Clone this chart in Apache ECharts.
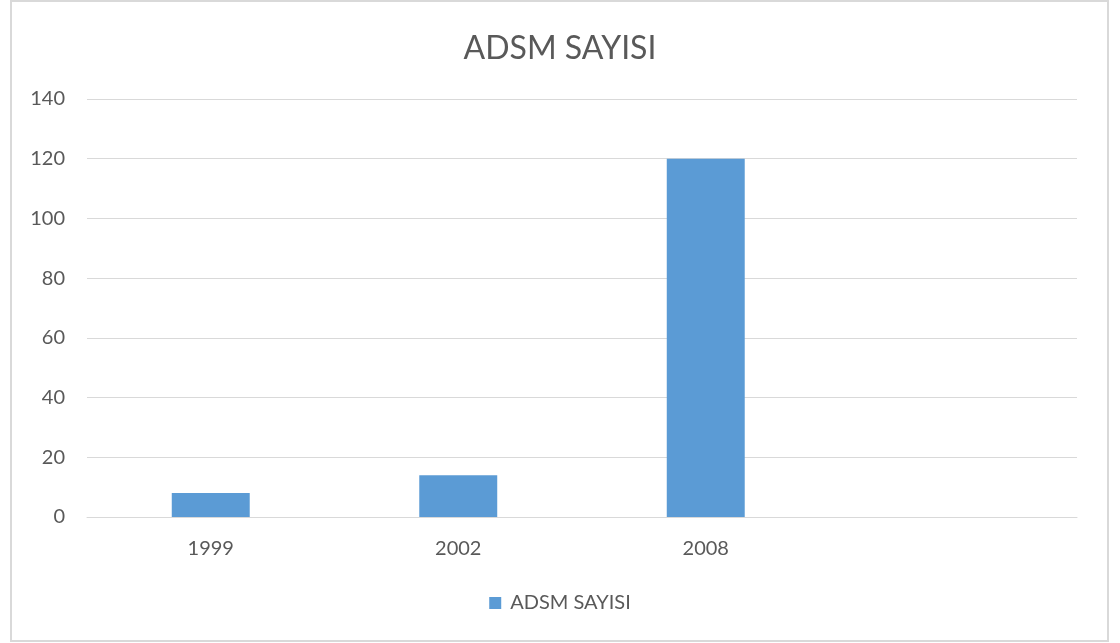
<!DOCTYPE html>
<html>
<head>
<meta charset="utf-8">
<script src="https://cdn.jsdelivr.net/npm/echarts@6/dist/echarts.min.js"></script>
<style>
  html, body { margin: 0; padding: 0; background: #fff; }
  #frame {
    position: absolute; left: 10px; top: 0px;
    width: 1095px; height: 638px;
    border: 2px solid #d9d9d9;
  }
  #chart { position: absolute; left: 0; top: 0; width: 1120px; height: 643px; }
</style>
</head>
<body>
<div id="frame"></div>
<div id="chart"></div>
<script>
// kategoriler ve degerler
const years = ['1999', '2002', '2008', '']
const adsmCounts = [8, 14, 120, null]
const yTicks = { min: 0, max: 140, interval: 20 }

const textColor = '#595959'
const fontFam = 'Lato, "Open Sans", sans-serif'

let myChart = echarts.init(document.getElementById('chart'))
myChart.setOption({
  title: {
    text: 'ADSM SAYISI',
    left: 'center',
    top: 28,
    textStyle: { color: textColor, fontSize: 32, fontWeight: 'normal', fontFamily: fontFam }
  },
  legend: {
    bottom: 25,
    left: 'center',
    icon: 'rect',
    itemWidth: 12,
    itemHeight: 12,
    itemGap: 6,
    textStyle: { color: textColor, fontSize: 20, fontFamily: fontFam, padding: [0, 0, 0, 4] },
    data: ['ADSM SAYISI']
  },
  grid: { left: 87, right: 43, top: 99, bottom: 126 },
  xAxis: {
    type: 'category',
    data: years,
    axisLine: { lineStyle: { color: '#d9d9d9', width: 1 } },
    axisTick: { show: false },
    axisLabel: { color: textColor, fontSize: 20, fontFamily: fontFam, margin: 22 }
  },
  yAxis: {
    type: 'value',
    min: yTicks.min,
    max: yTicks.max,
    interval: yTicks.interval,
    axisLine: { show: false },
    axisTick: { show: false },
    axisLabel: { color: textColor, fontSize: 20, fontFamily: fontFam, margin: 22 },
    splitLine: { lineStyle: { color: '#d9d9d9', width: 1 } }
  },
  series: [{
    name: 'ADSM SAYISI',
    type: 'bar',
    data: adsmCounts,
    barWidth: '31.5%',
    itemStyle: { color: '#5b9bd5' }
  }]
})
</script>
</body>
</html>
